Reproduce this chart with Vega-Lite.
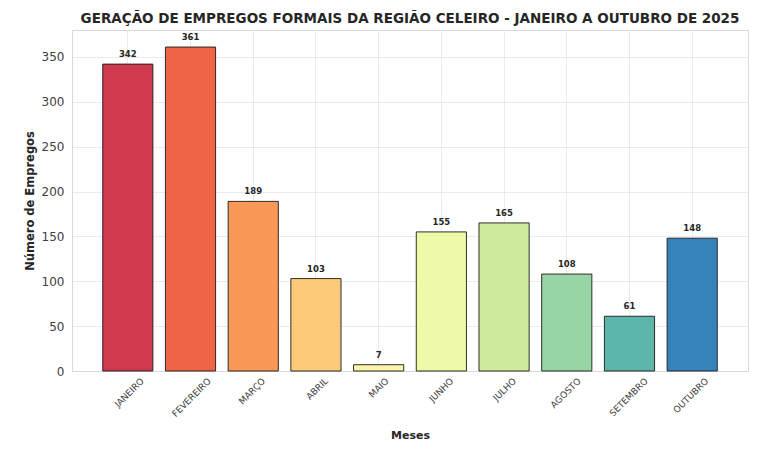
{
  "$schema": "https://vega.github.io/schema/vega-lite/v6.json",
  "width": 676,
  "height": 341,
  "autosize": {"type": "none"},
  "padding": {"left": 72, "top": 30, "right": 15, "bottom": 96},
  "background": "white",
  "config": {
    "font": "DejaVu Sans",
    "view": {"stroke": "#d9d9d9", "strokeWidth": 1},
    "axis": {"gridColor": "#e6e6e6", "gridWidth": 0.8, "domainColor": "#d9d9d9", "ticks": false}
  },
  "title": {
    "text": "GERAÇÃO DE EMPREGOS FORMAIS DA REGIÃO CELEIRO - JANEIRO A OUTUBRO DE 2025",
    "font": "DejaVu Sans",
    "fontSize": 13.5,
    "fontWeight": "bold",
    "color": "#262626",
    "anchor": "middle",
    "offset": 5
  },
  "data": {
    "values": [
      {"mes": "JANEIRO", "empregos": 342, "cor": "#d0384e"},
      {"mes": "FEVEREIRO", "empregos": 361, "cor": "#ee6445"},
      {"mes": "MARÇO", "empregos": 189, "cor": "#fa9856"},
      {"mes": "ABRIL", "empregos": 103, "cor": "#fdca79"},
      {"mes": "MAIO", "empregos": 7, "cor": "#fdf4ac"},
      {"mes": "JUNHO", "empregos": 155, "cor": "#f0f9a8"},
      {"mes": "JULHO", "empregos": 165, "cor": "#cfec9d"},
      {"mes": "AGOSTO", "empregos": 108, "cor": "#98d5a4"},
      {"mes": "SETEMBRO", "empregos": 61, "cor": "#5cb7aa"},
      {"mes": "OUTUBRO", "empregos": 148, "cor": "#3682ba"}
    ]
  },
  "encoding": {
    "x": {
      "field": "mes",
      "type": "nominal",
      "sort": null,
      "scale": {"paddingInner": 0.2, "paddingOuter": 0.49},
      "axis": {
        "title": "Meses",
        "titleFontSize": 11,
        "titleFontWeight": "bold",
        "titleColor": "#262626",
        "titlePadding": 11,
        "labelAngle": -45,
        "labelAlign": "right",
        "labelBaseline": "middle",
        "labelFontSize": 9,
        "labelColor": "#404040",
        "labelPadding": 8,
        "labelOffset": {"expr": "length(datum.label) * 2.1"},
        "grid": true,
        "domain": true
      }
    },
    "y": {
      "field": "empregos",
      "type": "quantitative",
      "scale": {"domain": [0, 380], "nice": false},
      "axis": {
        "title": "Número de Empregos",
        "titleFontSize": 11.5,
        "titleFontWeight": "bold",
        "titleColor": "#262626",
        "titlePadding": 6,
        "values": [0, 50, 100, 150, 200, 250, 300, 350],
        "labelFontSize": 12,
        "labelColor": "#404040",
        "labelPadding": 8,
        "grid": true
      }
    }
  },
  "layer": [
    {
      "mark": {"type": "bar", "stroke": "#1a1a1a", "strokeWidth": 1, "strokeOpacity": 0.9},
      "encoding": {
        "color": {"field": "cor", "type": "nominal", "scale": null}
      }
    },
    {
      "mark": {"type": "text", "baseline": "bottom", "dy": -5, "fontSize": 8.5, "fontWeight": "bold", "color": "#262626"},
      "encoding": {
        "text": {"field": "empregos", "type": "quantitative"}
      }
    }
  ]
}
